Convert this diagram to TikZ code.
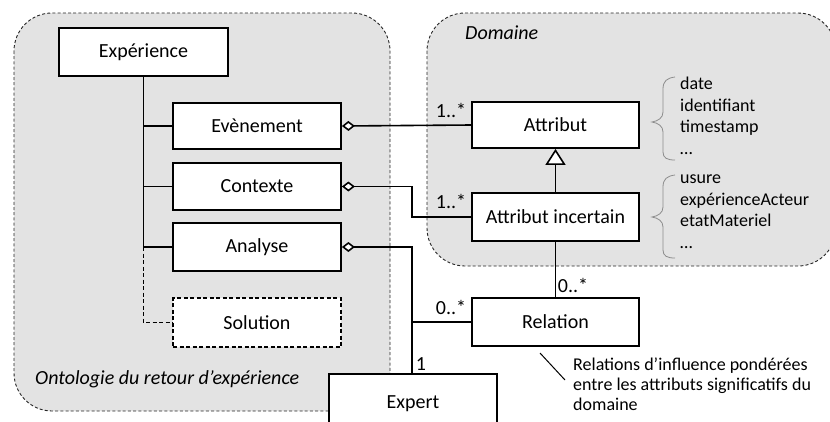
\documentclass[tikz,border=0pt]{standalone}
\usepackage{fontspec}
\setmainfont{Carlito}
\usetikzlibrary{arrows.meta}
\definecolor{regionfill}{RGB}{227,227,227}
\definecolor{bracegray}{RGB}{140,140,140}
\tikzset{
  region/.style={draw=black!85, dash pattern=on 3pt off 2.2pt, line width=0.9pt, fill=regionfill, rounded corners=38pt},
  classbox/.style={draw, line width=1.8pt, fill=white, minimum width=168pt, minimum height=47pt, inner sep=0pt, font=\fontsize{20}{24}\selectfont},
  optbox/.style={classbox, dash pattern=on 4pt off 2.5pt},
  conn/.style={line width=1.6pt},
  optconn/.style={conn, dash pattern=on 4pt off 2.5pt},
  aggr/.style={conn, {Diamond[fill=white, length=13pt, width=10pt]}-},
  inherit/.style={conn, -{Triangle[fill=white, length=16pt, width=20pt]}},
  mult/.style={font=\fontsize{20}{24}\selectfont, inner sep=0pt},
  regionlabel/.style={font=\fontsize{20}{24}\selectfont\itshape, inner sep=0pt, anchor=west},
  attrlist/.style={font=\fontsize{18}{21.5}\selectfont, inner sep=0pt, anchor=north west, align=left},
  bracket/.style={draw=bracegray, line width=0.8pt},
  notetext/.style={font=\fontsize{18}{20}\selectfont, inner sep=0pt, anchor=north west, align=left}
}
\begin{document}
\begin{tikzpicture}[x=1pt, y=-1pt]
\useasboundingbox (0,0) rectangle (830,421);
\clip (0,0) rectangle (830,421);

% package regions
\path[region] (14,13) rectangle (390,411);
\path[region] (427,13) rectangle (836,266);
\node[regionlabel] (ontolabel) at (35,379) {Ontologie du retour d’expérience};
\node[regionlabel] (domlabel) at (465,33) {Domaine};

% classes of the experience feedback ontology
\node[classbox, minimum height=48pt, minimum width=169pt] (exp) at (143.5,52) {Expérience};
\node[classbox, minimum height=46pt] (evt) at (257,126) {Evènement};
\node[classbox] (ctx) at (257,186.5) {Contexte};
\node[classbox, minimum height=48pt] (ana) at (257,247) {Analyse};
\node[optbox, minimum height=49pt] (sol) at (257,322.5) {Solution};

% domain classes
\node[classbox, minimum width=167pt, minimum height=46pt] (attr) at (555.5,125) {Attribut};
\node[classbox, minimum width=167pt, minimum height=48pt] (attrinc) at (555.5,217) {Attribut incertain};
\node[classbox, minimum width=167pt, minimum height=48pt] (rel) at (555.5,322) {Relation};
\node[classbox, minimum height=60pt] (expert) at (413,404) {Expert};

% composition tree of Expérience
\coordinate (trunk) at (exp.south);
\draw[conn] (trunk) -- (trunk |- ana.west) -- (ana.west);
\draw[conn] (trunk |- evt.west) -- (evt.west);
\draw[conn] (trunk |- ctx.west) -- (ctx.west);
\draw[optconn] (trunk |- ana.west) -- (trunk |- sol.west) -- (sol.west);

% associations
\coordinate (jx) at (412,0);
\draw[aggr] (evt.east) -- (attr.west);
\draw[aggr] (ctx.east) -- (ctx.east -| jx) -- (jx |- attrinc.west) -- (attrinc.west);
\draw[aggr] (ana.east) -- (ana.east -| jx) -- (jx |- expert.north);
\draw[conn] (jx |- rel.west) -- (rel.west);
\draw[inherit] (attrinc.north) -- (attr.south);
\draw[conn] (attrinc.south) -- (rel.north);

% multiplicities
\node[mult] (m1) at (451,110) {1..*};
\node[mult] (m2) at (451,201) {1..*};
\node[mult] (m3) at (451,307) {0..*};
\node[mult] (m4) at (573,285) {0..*};
\node[mult] (m5) at (421,364) {1};

% attribute examples with brackets
\draw[bracket] (675,77) .. controls (667,78) and (663,81) .. (663,89)
  -- (663,112) .. controls (663,118) and (658,121) .. (652,122)
  .. controls (658,123) and (663,126) .. (663,132)
  -- (663,152) .. controls (663,158) and (667,160) .. (675,160);
\draw[bracket] (675,175) .. controls (667,176) and (663,179) .. (663,187)
  -- (663,207) .. controls (663,213) and (658,216) .. (652,217)
  .. controls (658,218) and (663,221) .. (663,227)
  -- (663,250) .. controls (663,256) and (667,258) .. (675,258);
\node[attrlist] (list1) at (680,77) {date\\identifiant\\timestamp\\…};
\node[attrlist] (list2) at (680,175) {usure\\expérienceActeur\\etatMateriel\\…};

% note on Relation
\coordinate (notefrom) at (540,353);
\coordinate (noteto) at (565,380);
\draw[line width=1pt] (notefrom) -- (noteto);
\node[notetext] (note) at (573,358) {Relations d’influence pondérées\\entre les attributs significatifs du\\domaine};
\end{tikzpicture}
\end{document}
